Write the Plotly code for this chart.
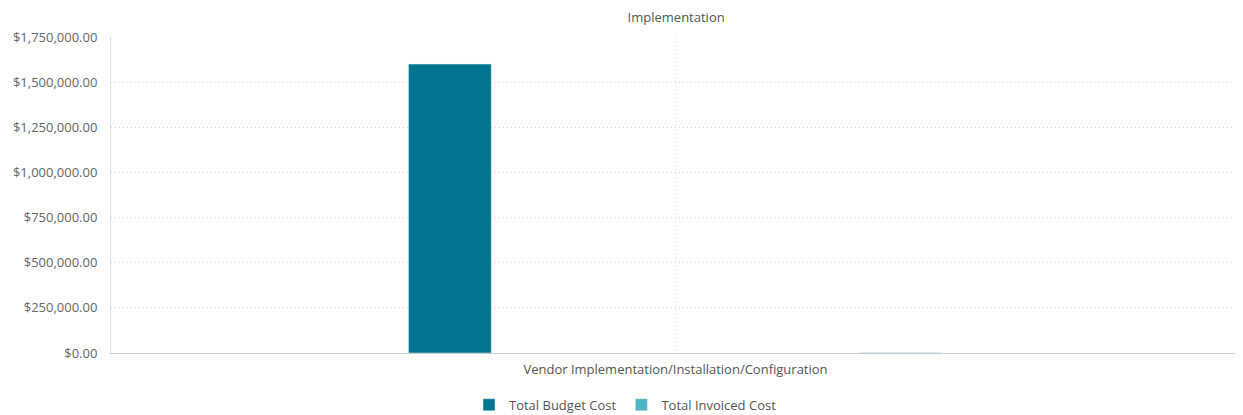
import plotly.graph_objects as go

# === data ===
categories = ["Vendor Implementation/Installation/Configuration"]
budget_cost = [1600000]
invoiced_cost = [1500]
y_ticks = [0, 250000, 500000, 750000, 1000000, 1250000, 1500000, 1750000]

fig = go.Figure()
fig.add_trace(go.Bar(
    x=categories, y=budget_cost, name="Total Budget Cost",
    marker_color="#017592", width=0.0733, offset=-0.2365,
))
fig.add_trace(go.Bar(
    x=categories, y=invoiced_cost, name="Total Invoiced Cost",
    marker_color="#4BB5C4", width=0.0733, offset=0.163,
))

grid_dash = "1px,3px"

# page body has an 8px margin, so the figure is a bit smaller than the window
fig.update_layout(
    width=1235, height=407,
    margin=dict(l=103, r=3, t=29, b=62, autoexpand=False),
    plot_bgcolor="white", paper_bgcolor="white",
    font=dict(family="Open Sans", size=13, color="#666"),
    title=dict(text="Implementation", x=0.541, xanchor="center",
               yref="container", y=0.978, yanchor="middle",
               font=dict(size=13, color="#555")),
    barmode="group",
    showlegend=True,
    legend=dict(orientation="h", xref="container", x=0.5, xanchor="center",
                yref="container", y=0.025, yanchor="middle",
                font=dict(size=13, color="#555"), itemwidth=30),
    yaxis=dict(
        range=[0, 1750000], tickvals=y_ticks, tickformat="$,.2f",
        showgrid=True, gridcolor="#d8d8d8", griddash=grid_dash, gridwidth=1,
        showline=True, linecolor="#ddd", linewidth=1,
        zeroline=False, ticks="", ticklabelstandoff=10,
    ),
    xaxis=dict(
        showgrid=True, gridcolor="#d8d8d8", griddash=grid_dash, gridwidth=1,
        showline=True, linecolor="#ccc", linewidth=1,
        ticks="", ticklabelstandoff=4, tickfont=dict(size=13, color="#555"),
    ),
)

fig.write_html("out.html")
